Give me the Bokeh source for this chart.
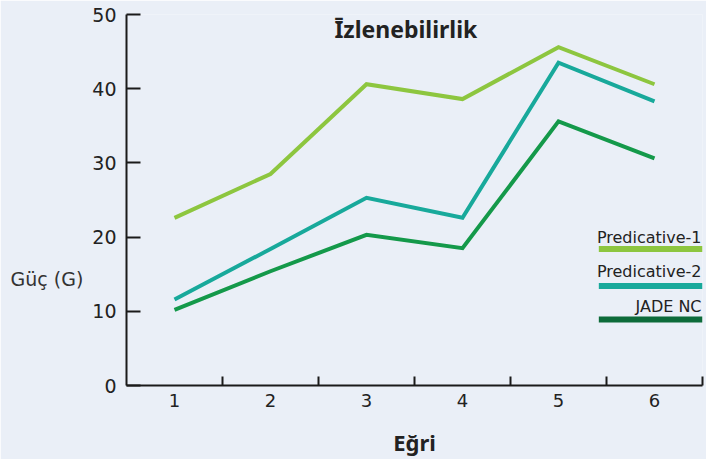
from bokeh.plotting import figure
from bokeh.models import Range1d, FixedTicker, Label
from bokeh.embed import file_html
from bokeh.resources import INLINE

categories = [1, 2, 3, 4, 5, 6]
tick_labels = ["1", "2", "3", "4", "5", "6"]
series_names = ["Predicative-1", "Predicative-2", "JADE NC"]
pred1 = [22.6, 28.5, 40.6, 38.6, 45.6, 40.6]
pred2 = [11.6, 18.4, 25.3, 22.6, 43.5, 38.3]
jade = [10.2, 15.4, 20.3, 18.5, 35.6, 30.6]
y_ticks = [0, 10, 20, 30, 40, 50]

line_colors = ["#8dc63f", "#18a99b", "#14994a"]
legend_colors = ["#8dc63f", "#18a99b", "#0d6b3a"]
BG = "#eaeff7"
FONT = "DejaVu Sans"

p = figure(width=706, height=459, output_backend="svg", toolbar_location=None,
           x_range=Range1d(0.5, 6.5), y_range=Range1d(0, 50),
           min_border_left=126, min_border_right=4, min_border_top=14, min_border_bottom=73)
p.background_fill_color = BG
p.border_fill_color = BG
p.outline_line_color = None
p.grid.visible = False

for vals, col in zip([pred1, pred2, jade], line_colors):
    p.line(categories, vals, line_color=col, line_width=4, line_join="miter")

# x axis
xa = p.xaxis[0]
xa.ticker = FixedTicker(ticks=categories, minor_ticks=[c + 0.5 for c in categories])
xa.major_label_overrides = {c: t for c, t in zip(categories, tick_labels)}
xa.major_tick_line_color = None
xa.major_tick_in = 0
xa.major_tick_out = 0
xa.minor_tick_in = 9
xa.minor_tick_out = 0
xa.minor_tick_line_color = "#1a1a1a"
xa.minor_tick_line_width = 2
xa.axis_line_color = "#1a1a1a"
xa.axis_line_width = 2
xa.major_label_text_font = FONT
xa.major_label_text_font_size = "18px"
xa.major_label_text_color = "#222222"
xa.major_label_standoff = 8
xa.axis_label = "Eğri"
xa.axis_label_text_font = "Noto Sans"
xa.axis_label_text_font_style = "bold"
xa.axis_label_text_font_size = "22px"
xa.axis_label_text_color = "#222222"
xa.axis_label_standoff = 17

# y axis
ya = p.yaxis[0]
ya.ticker = FixedTicker(ticks=y_ticks, minor_ticks=[])
ya.major_tick_in = 14
ya.major_tick_out = 0
ya.major_tick_line_color = "#1a1a1a"
ya.major_tick_line_width = 2
ya.minor_tick_line_color = None
ya.axis_line_color = "#1a1a1a"
ya.axis_line_width = 2
ya.major_label_text_font = FONT
ya.major_label_text_font_size = "19px"
ya.major_label_text_color = "#222222"
ya.major_label_standoff = 10
# horizontal y-axis label, pushed down below the middle of the axis
ya.axis_label = "\n" * 6 + "Güç (G)"
ya.axis_label_orientation = "horizontal"
ya.axis_label_text_font = FONT
ya.axis_label_text_font_size = "19px"
ya.axis_label_text_font_style = "normal"
ya.axis_label_text_color = "#333333"
ya.axis_label_standoff = 6

# title
p.add_layout(Label(x=3.41, y=48.1, text="Īzlenebilirlik", text_font="Noto Sans",
                   text_font_style="bold", text_font_size="23px", text_color="#222222",
                   text_align="center", text_baseline="middle"))

# custom legend
legend_text_y = [20.0, 15.3, 10.6]
legend_line_y = [18.4, 13.4, 8.9]
for name, col, ty, ly in zip(series_names, legend_colors, legend_text_y, legend_line_y):
    p.add_layout(Label(x=6.49, y=ty, text=name, text_font=FONT, text_font_size="16px",
                       text_color="#222222", text_align="right", text_baseline="middle"))
    p.segment(x0=[5.42], y0=[ly], x1=[6.5], y1=[ly], line_color=col, line_width=6)

open("out.html", "w").write(file_html(p, INLINE))
